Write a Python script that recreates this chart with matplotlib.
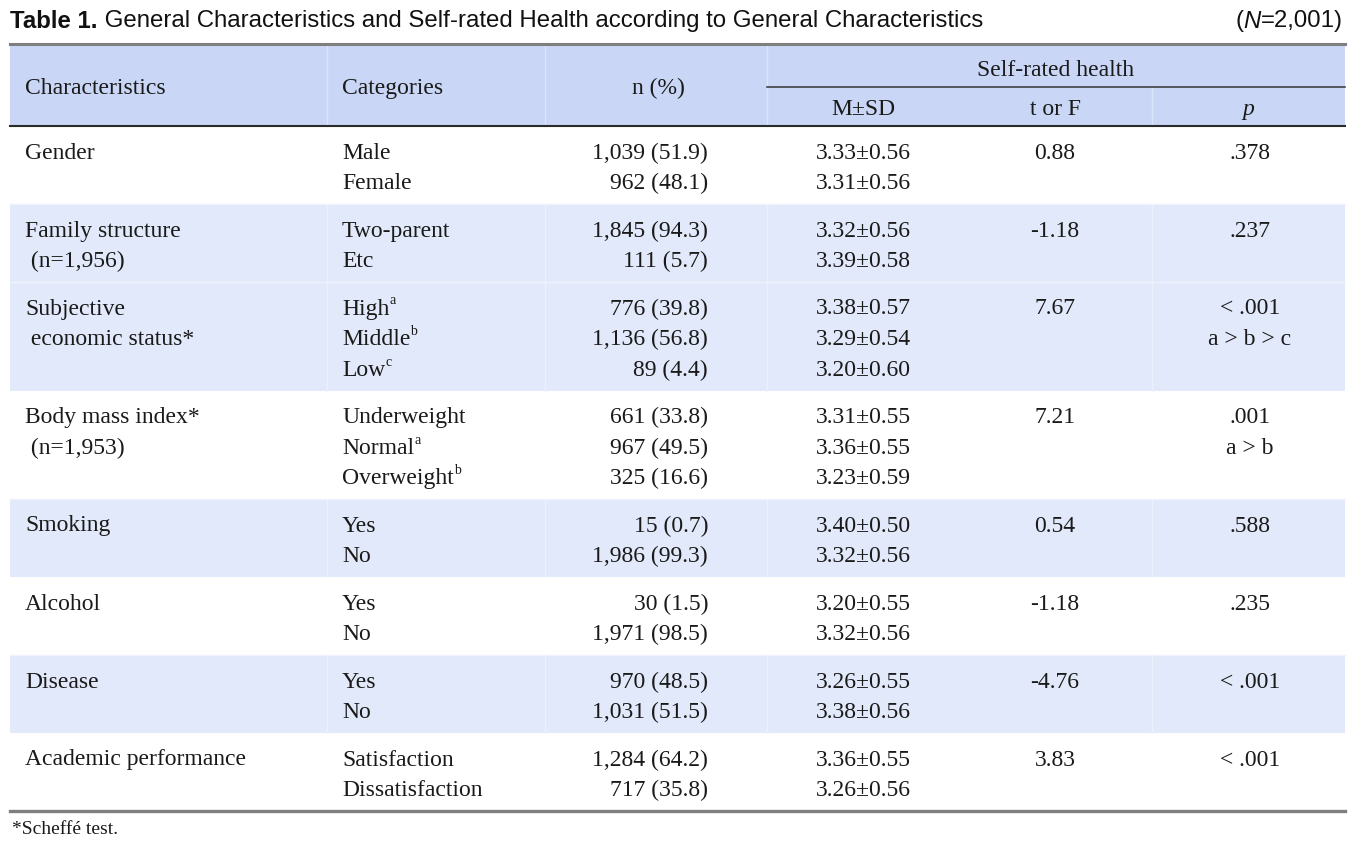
import matplotlib
matplotlib.use("Agg")
import matplotlib.pyplot as plt
from matplotlib.patches import Rectangle

# ---------------- data ----------------
characteristics = [
    ["Gender"],
    ["Family structure", " (n=1,956)"],
    ["Subjective", " economic status*"],
    ["Body mass index*", " (n=1,953)"],
    ["Smoking"],
    ["Alcohol"],
    ["Disease"],
    ["Academic performance"],
]
categories = [
    ["Male", "Female"],
    ["Two-parent", "Etc"],
    ["High", "Middle", "Low"],
    ["Underweight", "Normal", "Overweight"],
    ["Yes", "No"],
    ["Yes", "No"],
    ["Yes", "No"],
    ["Satisfaction", "Dissatisfaction"],
]
cat_super = [
    ["", ""],
    ["", ""],
    ["a", "b", "c"],
    ["", "a", "b"],
    ["", ""],
    ["", ""],
    ["", ""],
    ["", ""],
]
n_values = [
    [1039, 962],
    [1845, 111],
    [776, 1136, 89],
    [661, 967, 325],
    [15, 1986],
    [30, 1971],
    [970, 1031],
    [1284, 717],
]
pct_values = [
    [51.9, 48.1],
    [94.3, 5.7],
    [39.8, 56.8, 4.4],
    [33.8, 49.5, 16.6],
    [0.7, 99.3],
    [1.5, 98.5],
    [48.5, 51.5],
    [64.2, 35.8],
]
means = [
    [3.33, 3.31],
    [3.32, 3.39],
    [3.38, 3.29, 3.20],
    [3.31, 3.36, 3.23],
    [3.40, 3.32],
    [3.20, 3.32],
    [3.26, 3.38],
    [3.36, 3.26],
]
sds = [
    [0.56, 0.56],
    [0.56, 0.58],
    [0.57, 0.54, 0.60],
    [0.55, 0.55, 0.59],
    [0.50, 0.56],
    [0.55, 0.56],
    [0.55, 0.56],
    [0.55, 0.56],
]
t_or_f = ["0.88", "-1.18", "7.67", "7.21", "0.54", "-1.18", "-4.76", "3.83"]
p_values = [".378", ".237", "< .001", ".001", ".588", ".235", "< .001", "< .001"]
posthoc = ["", "", "a > b > c", "a > b", "", "", "", ""]
shaded = [False, True, True, False, True, False, True, False]

title_bold = "Table 1."
title_rest = " General Characteristics and Self-rated Health according to General Characteristics"
footnote = "*Scheff\u00e9 test."

# ---------------- layout ----------------
W, H = 1365, 849
fig = plt.figure(figsize=(W / 100, H / 100), dpi=100)
ax = fig.add_axes([0, 0, 1, 1])
ax.set_xlim(0, W)
ax.set_ylim(H, 0)
ax.axis("off")

SERIF = "Liberation Serif"
SANS = "Liberation Sans"
FS = 17
TFS = 17.3
HEAD_BG = "#c9d6f6"
ROW_BG = "#e2e9fa"
TXT = "#1a1a1a"

x0, x1 = 10, 1345
col_sep = [327, 545, 767, 1152]
x_char, x_cat, x_n_right = 25, 342, 708
x_msd, x_t, x_p = 863, 1055, 1250

fig.canvas.draw()
renderer = fig.canvas.get_renderer()


def text_width(t):
    bb = t.get_window_extent(renderer=renderer)
    return bb.width


# title
ty = 21
t1 = ax.text(x0, ty, title_bold, fontsize=TFS, fontweight="bold", family=SANS,
             va="center", ha="left", color="#111111")
w1 = text_width(t1)
ax.text(x0 + w1, ty, title_rest, fontsize=TFS, family=SANS, va="center",
        ha="left", color="#111111")
tn3 = ax.text(1343, ty, "=2,001)", fontsize=TFS, family=SANS, va="center",
              ha="right", color="#111111")
xw = 1343 - text_width(tn3)
tn2 = ax.text(xw, ty, "N", fontsize=TFS, family=SANS, style="italic",
              va="center", ha="right", color="#111111")
xw -= text_width(tn2)
ax.text(xw, ty, "(", fontsize=TFS, family=SANS, va="center", ha="right",
        color="#111111")

# header
head_top, head_mid, head_bot = 45, 87, 126
ax.add_patch(Rectangle((x0, head_top), x1 - x0, head_bot - head_top,
                       facecolor=HEAD_BG, edgecolor="none", zorder=0))
for xs in col_sep[:3]:
    ax.plot([xs, xs], [head_top, head_bot], color="#dde5fa", lw=1, zorder=1)
ax.plot([col_sep[3], col_sep[3]], [head_mid, head_bot], color="#dde5fa", lw=1, zorder=1)
ax.plot([x0, x1], [head_top - 1, head_top - 1], color="#7f7f7f", lw=2.2, zorder=3)
ax.plot([col_sep[2], x1], [head_mid, head_mid], color="#333333", lw=1.1, zorder=3)

hy = (head_top + head_bot) / 2 + 3
ax.text(x_char, hy, "Characteristics", fontsize=FS, family=SERIF, va="center", color=TXT)
ax.text(x_cat, hy, "Categories", fontsize=FS, family=SERIF, va="center", color=TXT)
ax.text(658, hy, "n (%)", fontsize=FS, family=SERIF, va="center", ha="center", color=TXT)
ax.text((col_sep[2] + x1) / 2, 70, "Self-rated health", fontsize=FS, family=SERIF,
        va="center", ha="center", color=TXT)
ax.text(x_msd, 109, "M\u00b1SD", fontsize=FS, family=SERIF, va="center", ha="center", color=TXT)
ax.text(x_t, 109, "t or F", fontsize=FS, family=SERIF, va="center", ha="center", color=TXT)
ax.text(x_p - 2, 109, "p", fontsize=FS, family=SERIF, style="italic", va="center",
        ha="center", color=TXT)

# body
pitch = 30.5
y = head_bot
for g in range(len(categories)):
    nl = len(categories[g])
    gh = 17 + pitch * nl
    if shaded[g]:
        ax.add_patch(Rectangle((x0, y), x1 - x0, gh, facecolor=ROW_BG,
                               edgecolor="none", zorder=0))
        for xs in col_sep:
            ax.plot([xs, xs], [y, y + gh], color="#edf1fc", lw=1, zorder=1)
        ax.plot([x0, x1], [y, y], color="#f0f3fd", lw=1, zorder=1)
    base = y + 27
    for i, line in enumerate(characteristics[g]):
        ax.text(x_char, base + pitch * i, line, fontsize=FS, family=SERIF,
                va="center", ha="left", color=TXT)
    for i in range(nl):
        yy = base + pitch * i
        tc = ax.text(x_cat, yy, categories[g][i], fontsize=FS, family=SERIF,
                     va="center", ha="left", color=TXT)
        if cat_super[g][i]:
            ax.text(x_cat + text_width(tc), yy - 8, cat_super[g][i], fontsize=10,
                    family=SERIF, va="center", ha="left", color=TXT)
        ax.text(x_n_right, yy, f"{n_values[g][i]:,} ({pct_values[g][i]:.1f})",
                fontsize=FS, family=SERIF, va="center", ha="right", color=TXT)
        ax.text(x_msd, yy, f"{means[g][i]:.2f}\u00b1{sds[g][i]:.2f}", fontsize=FS,
                family=SERIF, va="center", ha="center", color=TXT)
    ax.text(x_t, base, t_or_f[g], fontsize=FS, family=SERIF, va="center",
            ha="center", color=TXT)
    ax.text(x_p, base, p_values[g], fontsize=FS, family=SERIF, va="center",
            ha="center", color=TXT)
    if posthoc[g]:
        ax.text(x_p, base + pitch, posthoc[g], fontsize=FS, family=SERIF,
                va="center", ha="center", color=TXT)
    y += gh

ax.plot([x0, x1], [head_bot, head_bot], color="#2b2b2b", lw=1.5, zorder=3)
ax.plot([x0, x1], [y, y], color="#7f7f7f", lw=2.4, zorder=3)

ax.text(12, 830, footnote, fontsize=14, family=SERIF, va="center", ha="left", color=TXT)

fig.savefig("out.png", dpi=100)
